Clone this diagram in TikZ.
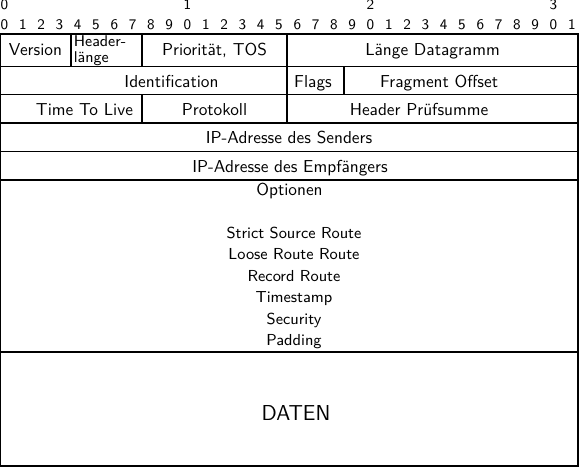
\documentclass[tikz,border=0pt]{standalone}
\begin{document}
\begin{tikzpicture}[x=0.578pt,y=-0.578pt,
  frame/.style={line width=0.6pt},
  lbl/.style={inner sep=0pt,anchor=base,font=\sffamily\fontsize{10}{12}\selectfont},
  hdr/.style={inner sep=0pt,anchor=base west,font=\sffamily\fontsize{9}{11}\selectfont},
  bitno/.style={inner sep=0pt,anchor=base,font=\sffamily\fontsize{8.5}{10}\selectfont},
  opt/.style={inner sep=0pt,anchor=base,font=\sffamily\fontsize{9.2}{11}\selectfont},
  big/.style={inner sep=0pt,anchor=base,font=\sffamily\fontsize{12.5}{15}\selectfont}]
\useasboundingbox (0,0) rectangle (580,467);
% bit numbers
\foreach \t in {0,1,2,3} {
  \node[bitno] (t\t) at ({4.5+\t*10*18.3},9.5) {\t};
}
\foreach \i in {0,...,31} {
  \pgfmathtruncatemacro{\d}{mod(\i,10)}
  \node[bitno] (b\i) at ({4.5+\i*18.3},29) {\d};
}
% frame
\draw[frame] (0.5,34) rectangle (578,466);
\foreach \yy in {66.5,94.5,123,151.5,180,352} {
  \draw[frame] (0.5,\yy) -- (578,\yy);
}
\draw[frame] (71,34) -- (71,66.5);
\draw[frame] (142,34) -- (142,66.5);
\draw[frame] (287,34) -- (287,123);
\draw[frame] (344,66.5) -- (344,94.5);
\draw[frame] (142,94.5) -- (142,123);
% row 1
\node[lbl] (version) at (35.5,55.5) {Version};
\node[hdr] (hdrA) at (73.5,46) {Header-};
\node[hdr] (hdrB) at (73.5,62.5) {länge};
\node[lbl] (prio) at (214.5,55.5) {Priorität, TOS};
\node[lbl] (laenge) at (432.5,55.5) {Länge Datagramm};
% row 2
\node[lbl] (ident) at (171.5,87.5) {Identification};
\node[lbl] (flags) at (313,87.5) {Flags};
\node[lbl] (fragoff) at (439,87.5) {Fragment Offset};
% row 3
\node[lbl] (ttl) at (84.5,115) {Time To Live};
\node[lbl] (proto) at (214.5,115) {Protokoll};
\node[lbl] (hpruef) at (419,115) {Header Prüfsumme};
% rows 4,5
\node[lbl] (ipsend) at (289,143.5) {IP-Adresse des Senders};
\node[lbl] (ipempf) at (290,172) {IP-Adresse des Empfängers};
% options
\node[lbl] (optionen) at (289.5,195) {Optionen};
\node[opt] (o1) at (294,238) {Strict Source Route};
\node[opt] (o2) at (294,259.5) {Loose Route Route};
\node[opt] (o3) at (294,281) {Record Route};
\node[opt] (o4) at (294,302.5) {Timestamp};
\node[opt] (o5) at (294,324) {Security};
\node[opt] (o6) at (294,345.5) {Padding};
% data
\node[big] (daten) at (296,420) {DATEN};
\end{tikzpicture}
\end{document}
